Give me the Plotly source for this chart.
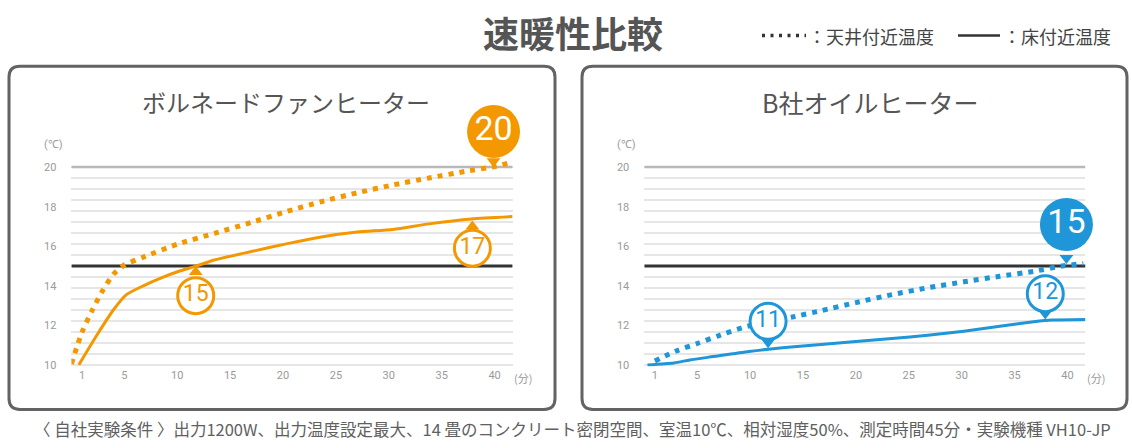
import plotly.graph_objects as go

W, H = 1132, 448

# ---------------- data ----------------
minute_ticks = [1, 5, 10, 15, 20, 25, 30, 35, 40]
temp_ticks = [10, 12, 14, 16, 18, 20]

left_ceiling_x = [0, 1, 2, 3, 4, 5, 6.8, 10, 13.5, 17, 20.3, 23.6, 27, 30.4, 33.8, 37.2, 40, 41.7]
left_ceiling_y = [10.05, 11.65, 12.8, 13.8, 14.6, 15.05, 15.45, 16.1, 16.65, 17.2, 17.75, 18.25, 18.7, 19.1, 19.45, 19.78, 20.03, 20.25]

left_floor_x = [0.7, 2.4, 4.0, 5.2, 6.8, 8.5, 10.1, 11.7, 13.5, 16.9, 20.3, 23.6, 27, 30.4, 33.8, 37.8, 41.7]
left_floor_y = [10.0, 11.5, 12.8, 13.55, 14.0, 14.4, 14.72, 14.98, 15.3, 15.72, 16.12, 16.47, 16.72, 16.85, 17.13, 17.38, 17.5]

right_ceiling_x = [1, 3, 5, 7, 9.5, 12, 14, 16.7, 20, 23.4, 26.8, 30.2, 33.6, 36.8, 39.5, 41.5]
right_ceiling_y = [10.2, 10.7, 11.08, 11.47, 11.92, 12.2, 12.42, 12.74, 13.15, 13.55, 13.9, 14.2, 14.48, 14.73, 15.0, 15.12]

right_floor_x = [0.3, 2.8, 4.3, 6.5, 9.9, 13.3, 16.7, 20, 23.4, 26.8, 30.2, 33.6, 36.8, 38.5, 41.7]
right_floor_y = [10.0, 10.1, 10.25, 10.42, 10.68, 10.88, 11.03, 11.18, 11.33, 11.5, 11.7, 11.95, 12.18, 12.27, 12.3]

reference_temp = 15
top_grid_temp = 20

# callout bubbles: label, bubble centre (min, degC), pointer tip (degC), filled?
left_bubble_text = ["20", "17", "15"]
left_bubble_x = [39.9, 37.9, 11.75]
left_bubble_y = [21.8, 15.9, 13.5]
left_tip_y = [20.0, 17.3, 15.0]
left_bubble_filled = [True, False, False]

right_bubble_text = ["15", "12", "11"]
right_bubble_x = [39.9, 37.9, 11.7]
right_bubble_y = [17.1, 13.6, 12.2]
right_tip_y = [15.1, 12.3, 10.85]
right_bubble_filled = [True, False, False]

ORANGE = "#F39800"
BLUE = "#1E96D8"
FONT = "Noto Sans CJK JP"

# ---------------- geometry ----------------
PX_PER_MIN = 10.58
X_MAX = 41.7
Y_BOTTOM_PX, Y_TOP_PX = 371, 157
Y_RANGE = [9.9, 20.6]
Y_DOM = [(H - Y_BOTTOM_PX) / H, (H - Y_TOP_PX) / H]
PX_PER_DEG = (Y_BOTTOM_PX - Y_TOP_PX) / (Y_RANGE[1] - Y_RANGE[0])
# taller invisible axis with identical scale, for callouts above the grid
BUB_TOP_PX = 95
Y_DOM_BUB = [Y_DOM[0], (H - BUB_TOP_PX) / H]
Y_RANGE_BUB = [Y_RANGE[0], Y_RANGE[0] + (Y_BOTTOM_PX - BUB_TOP_PX) / PX_PER_DEG]

left_x0 = 71.4
right_x0 = 644.3


def fx(p):
    return p / W


def fy(p):
    return 1 - p / H


fig = go.Figure()


def add_panel(xa, ya, yb, cx, cy, fx_, fy_, color, btext, bx, by, tipy, bfill):
    # top grid line (20) and reference line (15)
    fig.add_trace(go.Scatter(x=[0, X_MAX], y=[top_grid_temp] * 2, xaxis=xa, yaxis=ya, mode="lines",
                             line=dict(color="#b8b8b8", width=2.5), hoverinfo="skip", showlegend=False))
    fig.add_trace(go.Scatter(x=[0, X_MAX], y=[reference_temp] * 2, xaxis=xa, yaxis=ya, mode="lines",
                             line=dict(color="#333333", width=3), hoverinfo="skip", showlegend=False))
    fig.add_trace(go.Scatter(x=cx, y=cy, xaxis=xa, yaxis=ya, mode="lines",
                             line=dict(color=color, width=5, dash="5px,6px", shape="spline", smoothing=0.6),
                             hoverinfo="skip", showlegend=False, cliponaxis=False))
    fig.add_trace(go.Scatter(x=fx_, y=fy_, xaxis=xa, yaxis=ya, mode="lines",
                             line=dict(color=color, width=3, shape="spline", smoothing=0.6),
                             hoverinfo="skip", showlegend=False, cliponaxis=False))
    for t, x, y, ty, filled in zip(btext, bx, by, tipy, bfill):
        up = ty > y
        tri_size = 12
        off = (tri_size / 2) / PX_PER_DEG
        tri_y = ty - off if up else ty + off
        fig.add_trace(go.Scatter(x=[x], y=[tri_y], xaxis=xa, yaxis=yb, mode="markers",
                                 marker=dict(symbol="triangle-up" if up else "triangle-down",
                                             size=tri_size, color=color, line=dict(width=0)),
                                 hoverinfo="skip", showlegend=False, cliponaxis=False))
        if filled:
            fig.add_trace(go.Scatter(x=[x], y=[y], xaxis=xa, yaxis=yb, mode="markers+text",
                                     marker=dict(size=53, color=color, line=dict(width=0)),
                                     text=[t], textposition="middle center",
                                     textfont=dict(family="Roboto", size=34, color="white"),
                                     hoverinfo="skip", showlegend=False, cliponaxis=False))
        else:
            fig.add_trace(go.Scatter(x=[x], y=[y], xaxis=xa, yaxis=yb, mode="markers+text",
                                     marker=dict(size=36, color="white", line=dict(width=3, color=color)),
                                     text=[t], textposition="middle center",
                                     textfont=dict(family="Roboto", size=23, color=color),
                                     hoverinfo="skip", showlegend=False, cliponaxis=False))


add_panel("x", "y", "y3", left_ceiling_x, left_ceiling_y, left_floor_x, left_floor_y, ORANGE,
          left_bubble_text, left_bubble_x, left_bubble_y, left_tip_y, left_bubble_filled)
add_panel("x2", "y2", "y4", right_ceiling_x, right_ceiling_y, right_floor_x, right_floor_y, BLUE,
          right_bubble_text, right_bubble_x, right_bubble_y, right_tip_y, right_bubble_filled)

tickfont = dict(family="Roboto", size=11, color="#9a9a9a")


def xaxis_cfg(x0, anchor):
    return dict(domain=[fx(x0), fx(x0 + X_MAX * PX_PER_MIN)], range=[0, X_MAX], anchor=anchor,
                tickvals=minute_ticks, ticktext=[str(v) for v in minute_ticks],
                showgrid=False, zeroline=False, showline=False, ticks="",
                tickfont=tickfont, fixedrange=True)


def yaxis_cfg(anchor):
    return dict(domain=Y_DOM, range=Y_RANGE, anchor=anchor,
                tickvals=temp_ticks, ticktext=[str(v) for v in temp_ticks],
                showgrid=False, zeroline=False, showline=False, ticks="",
                ticklabelstandoff=14, tickfont=tickfont, fixedrange=True,
                minor=dict(tick0=10, dtick=10 / 18, showgrid=True, gridcolor="#e6e6e6", gridwidth=1.5, ticks=""))


def yaxis_bub_cfg(anchor):
    return dict(domain=Y_DOM_BUB, range=Y_RANGE_BUB, anchor=anchor, visible=False,
                showgrid=False, zeroline=False, fixedrange=True)


shapes = []


def rounded_box(x0, y0, x1, y1, r):
    path = (f"M {fx(x0 + r)},{fy(y0)} L {fx(x1 - r)},{fy(y0)} Q {fx(x1)},{fy(y0)} {fx(x1)},{fy(y0 + r)} "
            f"L {fx(x1)},{fy(y1 - r)} Q {fx(x1)},{fy(y1)} {fx(x1 - r)},{fy(y1)} "
            f"L {fx(x0 + r)},{fy(y1)} Q {fx(x0)},{fy(y1)} {fx(x0)},{fy(y1 - r)} "
            f"L {fx(x0)},{fy(y0 + r)} Q {fx(x0)},{fy(y0)} {fx(x0 + r)},{fy(y0)} Z")
    return dict(type="path", xref="paper", yref="paper", path=path,
                line=dict(color="#636363", width=3), fillcolor="rgba(0,0,0,0)", layer="below")


shapes.append(rounded_box(9, 67, 555, 414, 11))
shapes.append(rounded_box(582, 67, 1127, 414, 11))

# legend samples
shapes.append(dict(type="line", xref="paper", yref="paper", x0=fx(762), x1=fx(806), y0=fy(36), y1=fy(36),
                   line=dict(color="#333333", width=3.5, dash="3px,5.5px")))
shapes.append(dict(type="line", xref="paper", yref="paper", x0=fx(958), x1=fx(1000), y0=fy(36), y1=fy(36),
                   line=dict(color="#333333", width=2.5)))

annotations = []


def ann(text, x, y, size, color="#555555", xanchor="center", family=FONT, bold=False):
    if bold:
        text = f"<b>{text}</b>"
    annotations.append(dict(text=text, x=fx(x), y=fy(y), xref="paper", yref="paper", showarrow=False,
                            xanchor=xanchor, yanchor="middle", font=dict(family=family, size=size, color=color)))


ann("速暖性比較", 573, 32, 36, "#555555", bold=True)
ann("：天井付近温度", 806, 36, 18, "#444444", xanchor="left")
ann("：床付近温度", 1001, 36, 18, "#444444", xanchor="left")
ann("ボルネードファンヒーター", 286, 103, 24, "#555555")
ann("B社オイルヒーター", 870, 103, 25, "#555555")
ann("(℃)", 53, 146, 11, "#9a9a9a", family="Roboto")
ann("(℃)", 626, 146, 11, "#9a9a9a", family="Roboto")
ann("(分)", 523, 382, 11, "#9a9a9a")
ann("(分)", 1096, 382, 11, "#9a9a9a")
ann("〈 自社実験条件 〉出力1200W、出力温度設定最大、14 畳のコンクリート密閉空間、室温10℃、相対湿度50%、測定時間45分・実験機種 VH10-JP",
    572, 434, 16.5, "#606060")

fig.update_layout(
    width=W, height=H, margin=dict(l=0, r=0, t=0, b=0),
    paper_bgcolor="white", plot_bgcolor="rgba(0,0,0,0)",
    xaxis=xaxis_cfg(left_x0, "y"),
    yaxis=yaxis_cfg("x"),
    xaxis2=xaxis_cfg(right_x0, "y2"),
    yaxis2=yaxis_cfg("x2"),
    yaxis3=yaxis_bub_cfg("x"),
    yaxis4=yaxis_bub_cfg("x2"),
    shapes=shapes, annotations=annotations, showlegend=False,
)

fig.write_html("out.html", config={"displayModeBar": False},
               post_script="document.body.style.margin='0';document.body.style.overflow='hidden';")
